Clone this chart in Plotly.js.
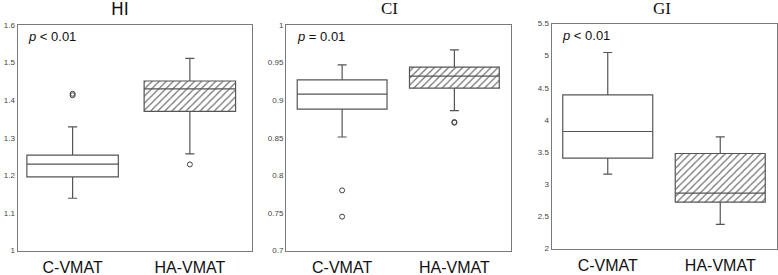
<!DOCTYPE html>
<html>
<head>
<meta charset="utf-8">
<script src="https://cdn.plot.ly/plotly-3.0.1.min.js"></script>
<style>html,body{margin:0;padding:0;background:#fff;}#chart{width:778px;height:275px;}</style>
</head>
<body>
<div id="chart"></div>
<script>
// ---- data ----
const groups = ["C-VMAT", "HA-VMAT"];

const hiLower  = [1.139, 1.257];
const hiQ1     = [1.196, 1.370];
const hiMedian = [1.230, 1.430];
const hiQ3     = [1.254, 1.451];
const hiUpper  = [1.329, 1.511];
const hiOutX   = ["C-VMAT", "C-VMAT", "HA-VMAT"];
const hiOutY   = [1.413, 1.417, 1.229];

const ciLower  = [0.851, 0.886];
const ciQ1     = [0.888, 0.916];
const ciMedian = [0.908, 0.932];
const ciQ3     = [0.927, 0.944];
const ciUpper  = [0.947, 0.967];
const ciOutX   = ["C-VMAT", "C-VMAT", "HA-VMAT", "HA-VMAT"];
const ciOutY   = [0.780, 0.745, 0.870, 0.871];

const giLower  = [3.157, 2.374];
const giQ1     = [3.405, 2.721];
const giMedian = [3.820, 2.861];
const giQ3     = [4.390, 3.478];
const giUpper  = [5.049, 3.737];

const titles  = ["HI", "CI", "GI"];
const pLabels = ["<i>p</i> < 0.01", "<i>p</i> = 0.01", "<i>p</i> < 0.01"];

// ---- styling ----
const lineCol = "#555555";
const frameCol = "#7a7a7a";

function panel(ax, lower, q1, med, q3, upper, outX, outY, bw) {
  const xa = "x" + (ax === 1 ? "" : ax);
  const ya = "y" + (ax === 1 ? "" : ax);
  const traces = [];
  // hatched fill for HA-VMAT box
  traces.push({
    type: "bar", xaxis: xa, yaxis: ya,
    x: [groups[1]], base: [q1[1]], y: [q3[1] - q1[1]],
    width: bw,
    marker: { color: "#ffffff", line: { width: 0 },
      pattern: { shape: "/", fgcolor: "#6a6a6a", bgcolor: "#ffffff", size: 5, solidity: 0.22 } },
    hoverinfo: "skip", showlegend: false
  });
  traces.push({
    type: "box", xaxis: xa, yaxis: ya,
    x: groups, q1: q1, median: med, q3: q3,
    lowerfence: lower, upperfence: upper,
    width: bw, whiskerwidth: 0.1,
    boxpoints: false,
    fillcolor: "rgba(0,0,0,0)",
    line: { color: lineCol, width: 1.2 },
    showlegend: false
  });
  if (outX && outX.length) {
    traces.push({
      type: "scatter", mode: "markers", xaxis: xa, yaxis: ya,
      x: outX, y: outY,
      marker: { symbol: "circle-open", size: 5, color: "#444", line: { width: 1 } },
      showlegend: false
    });
  }
  return traces;
}

const data = [].concat(
  panel(1, hiLower, hiQ1, hiMedian, hiQ3, hiUpper, hiOutX, hiOutY, 0.78),
  panel(2, ciLower, ciQ1, ciMedian, ciQ3, ciUpper, ciOutX, ciOutY, 0.80),
  panel(3, giLower, giQ1, giMedian, giQ3, giUpper, [], [], 0.80)
);

const H = 275, W = 778;
function xd(a, b) { return [a / W, b / W]; }
function yd(top, bot) { return [1 - bot / H, 1 - top / H]; }

const xBase = {
  type: "category", categoryorder: "array", categoryarray: groups,
  showline: true, mirror: true, linecolor: frameCol, linewidth: 1,
  showgrid: false, zeroline: false, ticks: "", ticklabelstandoff: 2,
  tickfont: { family: "Liberation Sans, Arial, sans-serif", size: 16, color: "#111" },
  fixedrange: true
};
const yBase = {
  showline: true, mirror: true, linecolor: frameCol, linewidth: 1,
  showgrid: false, zeroline: false, ticks: "",
  tickfont: { family: "Liberation Sans, Arial, sans-serif", size: 8, color: "#444" },
  fixedrange: true
};

const layout = {
  width: W, height: H,
  margin: { l: 0, r: 0, t: 0, b: 0 },
  paper_bgcolor: "#fff", plot_bgcolor: "#fff",
  showlegend: false, barmode: "overlay",
  xaxis:  Object.assign({}, xBase, { domain: xd(17.5, 252), range: [-0.47, 1.53], anchor: "y" }),
  xaxis2: Object.assign({}, xBase, { domain: xd(286, 510.5), range: [-0.5, 1.5], anchor: "y2" }),
  xaxis3: Object.assign({}, xBase, { domain: xd(551.5, 776.5), range: [-0.5, 1.5], anchor: "y3" }),
  yaxis:  Object.assign({}, yBase, { domain: yd(25, 250.5), range: [1, 1.6], dtick: 0.1, anchor: "x" }),
  yaxis2: Object.assign({}, yBase, { domain: yd(25, 250.5), range: [0.7, 1], dtick: 0.05, anchor: "x2" }),
  yaxis3: Object.assign({}, yBase, { domain: yd(23.5, 248.5), range: [2, 5.5], dtick: 0.5, anchor: "x3" }),
  annotations: [
    { text: titles[0], xref: "paper", yref: "paper", x: 120 / W, y: 1 - 9 / H, xanchor: "center", yanchor: "middle", showarrow: false,
      font: { family: "DejaVu Sans, Liberation Sans, sans-serif", size: 17, color: "#111" } },
    { text: titles[1], xref: "paper", yref: "paper", x: 390 / W, y: 1 - 9 / H, xanchor: "center", yanchor: "middle", showarrow: false,
      font: { family: "Liberation Serif, Times New Roman, serif", size: 17, color: "#111" } },
    { text: titles[2], xref: "paper", yref: "paper", x: 662 / W, y: 1 - 9 / H, xanchor: "center", yanchor: "middle", showarrow: false,
      font: { family: "Liberation Serif, Times New Roman, serif", size: 17, color: "#111" } },
    { text: pLabels[0], xref: "paper", yref: "paper", x: 26 / W, y: 1 - 37 / H, xanchor: "left", yanchor: "middle", showarrow: false,
      font: { family: "Liberation Sans, Arial, sans-serif", size: 13, color: "#111" } },
    { text: pLabels[1], xref: "paper", yref: "paper", x: 295 / W, y: 1 - 37 / H, xanchor: "left", yanchor: "middle", showarrow: false,
      font: { family: "Liberation Sans, Arial, sans-serif", size: 13, color: "#111" } },
    { text: pLabels[2], xref: "paper", yref: "paper", x: 560 / W, y: 1 - 36 / H, xanchor: "left", yanchor: "middle", showarrow: false,
      font: { family: "Liberation Sans, Arial, sans-serif", size: 13, color: "#111" } }
  ]
};

Plotly.newPlot("chart", data, layout, { staticPlot: true, displayModeBar: false });
</script>
</body>
</html>
